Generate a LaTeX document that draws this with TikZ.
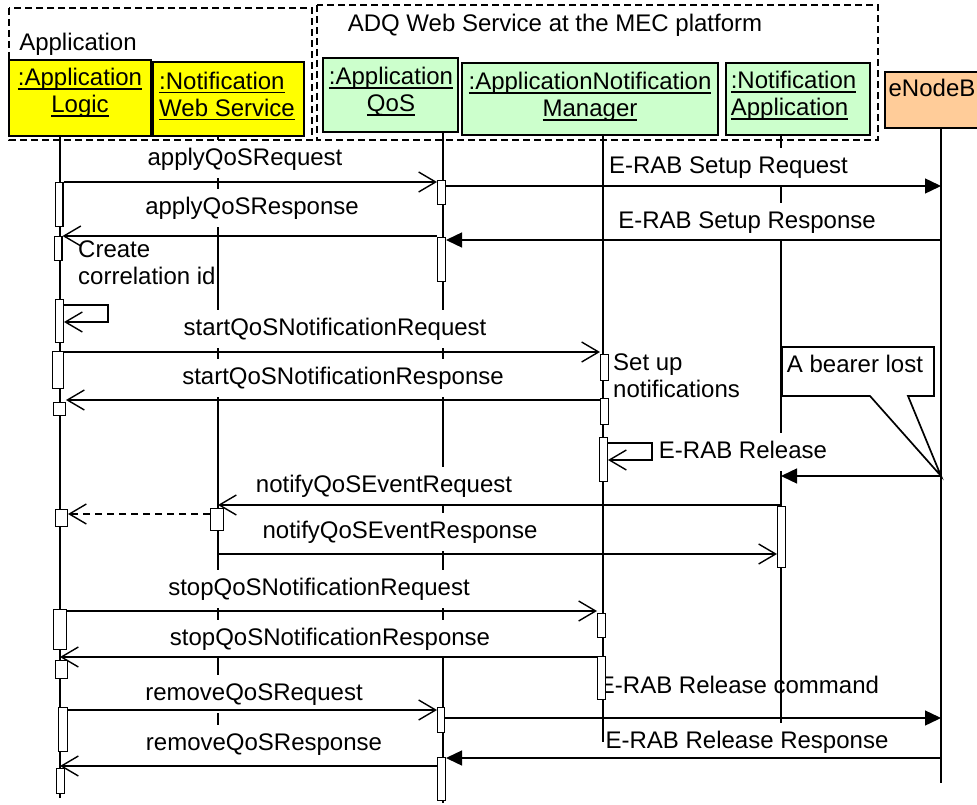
\documentclass[tikz,border=0pt]{standalone}
\usepackage{fontspec}
\setmainfont{Liberation Sans}
\usetikzlibrary{arrows.meta}
\definecolor{objyellow}{HTML}{FFFF00}
\definecolor{objgreen}{HTML}{CCFFCC}
\definecolor{objorange}{HTML}{FFCC99}
\newcommand{\ulbox}[1]{\setbox0\hbox{#1}\leavevmode\rlap{\rule[-4pt]{\wd0}{1.6pt}}\box0}

\begin{document}
\begin{tikzpicture}[x=1pt,y=-1pt,
	every node/.style={font=\fontsize{24}{27}\selectfont},
	head/.style={draw,line width=2pt,inner sep=0},
	headtxt/.style={inner sep=0},
	life/.style={line width=1.7pt},
	act/.style={draw,fill=white,line width=1.4pt,inner sep=0},
	call/.style={line width=1.4pt,-{Straight Barb[length=17pt,width=20pt]}},
	sig/.style={line width=1.4pt,-{Triangle[length=16pt,width=15pt]}},
	ret/.style={call,dash pattern=on 7pt off 5pt},
	lbl/.style={fill=white,inner xsep=2pt,inner ysep=8pt,text height=17.5pt,text depth=5pt},
	txt/.style={lbl,fill=none},
	note/.style={align=left,inner sep=0,anchor=north west},
	group/.style={line width=2pt,dash pattern=on 7pt off 4pt}]
\clip (0,0) rectangle (977,805);

% objects
\node[head,fill=objyellow,minimum width=142pt,minimum height=76pt] (al) at (80,98) {};
\node[head,fill=objyellow,minimum width=151pt,minimum height=74pt] (nws) at (228.5,99) {};
\node[head,fill=objgreen,minimum width=135pt,minimum height=74pt] (aq) at (390.5,95) {};
\node[head,fill=objgreen,minimum width=256pt,minimum height=72pt] (anm) at (590,99) {};
\node[head,fill=objgreen,minimum width=144pt,minimum height=72pt] (na) at (798,99) {};
\node[head,fill=objorange,minimum width=105pt,minimum height=56pt] (enb) at (937.5,100) {};
\node[headtxt,align=center] (alt) at (80,93) {\ulbox{:Application}\\\ulbox{Logic}};
\node[headtxt,align=left] (nwst) at (227,96) {\ulbox{:Notification}\\\ulbox{Web Service}};
\node[headtxt,align=center] (aqt) at (391,92) {\ulbox{:Application}\\\ulbox{QoS}};
\node[headtxt,align=center] (anmt) at (590,97) {\ulbox{:ApplicationNotification}\\\ulbox{Manager}};
\node[headtxt,align=left] (nat) at (793.5,96) {\ulbox{:Notification}\\\ulbox{Application}};
\node[headtxt] (enbt) at (932,88) {eNodeB};

% lifelines
\foreach \n/\x/\t/\b in {l1/60/136/798, l2/218/136/755, l3/443/132/803,
	l4/603/135/742, l5/781/135/727, l6/941/128/783}
{
	\coordinate (\n) at (\x,\t);
	\draw[life] (\n) -- (\x,\b);
}

% message labels
\node[lbl] (t1) at (245,159) {applyQoSRequest};
\node[lbl] (t2) at (728.5,167) {E-RAB Setup Request};
\node[lbl] (t3) at (252,208) {applyQoSResponse};
\node[lbl] (t4) at (747,222) {E-RAB Setup Response};
\node[lbl] (t5) at (335,329) {startQoSNotificationRequest};
\node[lbl] (t6) at (343,378) {startQoSNotificationResponse};
\node[lbl] (t7) at (743,452) {E-RAB Release};
\node[lbl] (t8) at (384,486) {notifyQoSEventRequest};
\node[lbl] (t9) at (400,532) {notifyQoSEventResponse};
\node[lbl] (t10) at (319,589) {stopQoSNotificationRequest};
\node[lbl] (t11) at (330,639) {stopQoSNotificationResponse};
\node[lbl] (t12) at (254,694) {removeQoSRequest};
\node[txt] (t13) at (739,687) {E-RAB Release command};
\node[lbl] (t14) at (264,744) {removeQoSResponse};
\node[lbl] (t15) at (747,742) {E-RAB Release Response};

% activations
\foreach \n/\x/\t/\b/\w in {a1/59/182/227/9, a2/58/236/261/9, a3/59.5/299/343/9,
	a4/58/351/389/12, a5/59.5/402/416/13, a6/61.5/509/527/13, a7/60/609/650/14,
	a8/61.5/660/679/13, a9/63/707/752/10, a10/60.5/768/794/9, b1/217/508/531/14,
	c1/441.5/180/205/9, c2/441.5/237/282/9, c3/441/707/733/8, c4/441.5/757/801/9,
	d1/604.5/354/381/9, d2/604.5/398/425/9, d3/603.5/437/482/9, d4/601.5/613/638/9,
	d5/601.5/656/700/9, e1/781.5/506/568/9}
	\node[act,minimum width={(\w-1.4)*1pt},minimum height={(\b-\t-1.4)*1pt}] (\n) at (\x,{(\t+\b)/2}) {};

\foreach \n/\y in {m1/182, m2/186, m3/236, m4/240, m5/305, m6/322, m7/352, m8/400,
	m9/443, m10/460, m11/476, m12/505, m13/514, m14/554, m15/611, m16/657,
	m17/710, m18/718, m19/758, m20/766}
	\coordinate (\n) at (0,\y);

% messages
\draw[call] (a1.east |- m1) -- (c1.west |- m1);
\draw[sig] (c1.east |- m2) -- (l6 |- m2);
\draw[call] (c2.west |- m3) -- (a2.east |- m3);
\draw[sig] (l6 |- m4) -- (c2.east |- m4);
\draw[call] (a3.east |- m5) -- ++(44,0) |- (a3.east |- m6);
\draw[call] (a4.east |- m7) -- (d1.west |- m7);
\draw[call] (d2.west |- m8) -- (a5.east |- m8);
\draw[call] (d3.east |- m9) -- ++(44,0) |- (d3.east |- m10);
\draw[sig] (l6 |- m11) -- (l5 |- m11);
\draw[call] (l5 |- m12) -- (l2 |- m12);
\draw[ret] (b1.west |- m13) -- (a6.east |- m13);
\draw[call] (l2 |- m14) -- (e1.west |- m14);
\draw[call] (a7.east |- m15) -- (d4.west |- m15);
\draw[call] (d5.west |- m16) -- (l1 |- m16);
\draw[call] (a9.east |- m17) -- (c3.west |- m17);
\draw[sig] (c3.east |- m18) -- (l6 |- m18);
\draw[sig] (l6 |- m19) -- (c4.east |- m19);
\draw[call] (c4.west |- m20) -- (l1 |- m20);

% notes
\node[note] (n1) at (78,241) {Create\\correlation id};
\node[note] (n2) at (613,354) {Set up\\notifications};
\draw[fill=white,line width=1.7pt] (782,347) -- (934,347) -- (934,396) -- (908,396)
	-- (l6 |- m11) -- (870,396) -- (782,396) -- cycle;
\node[txt] (n3) at (855,366) {A bearer lost};

% groups
\draw[group] (9,8) rectangle (312,140);
\draw[group] (317,5) rectangle (878,140);
\node (g1) at (78,44) {Application};
\node (g2) at (555,25) {ADQ Web Service at the MEC platform};
\end{tikzpicture}
\end{document}
